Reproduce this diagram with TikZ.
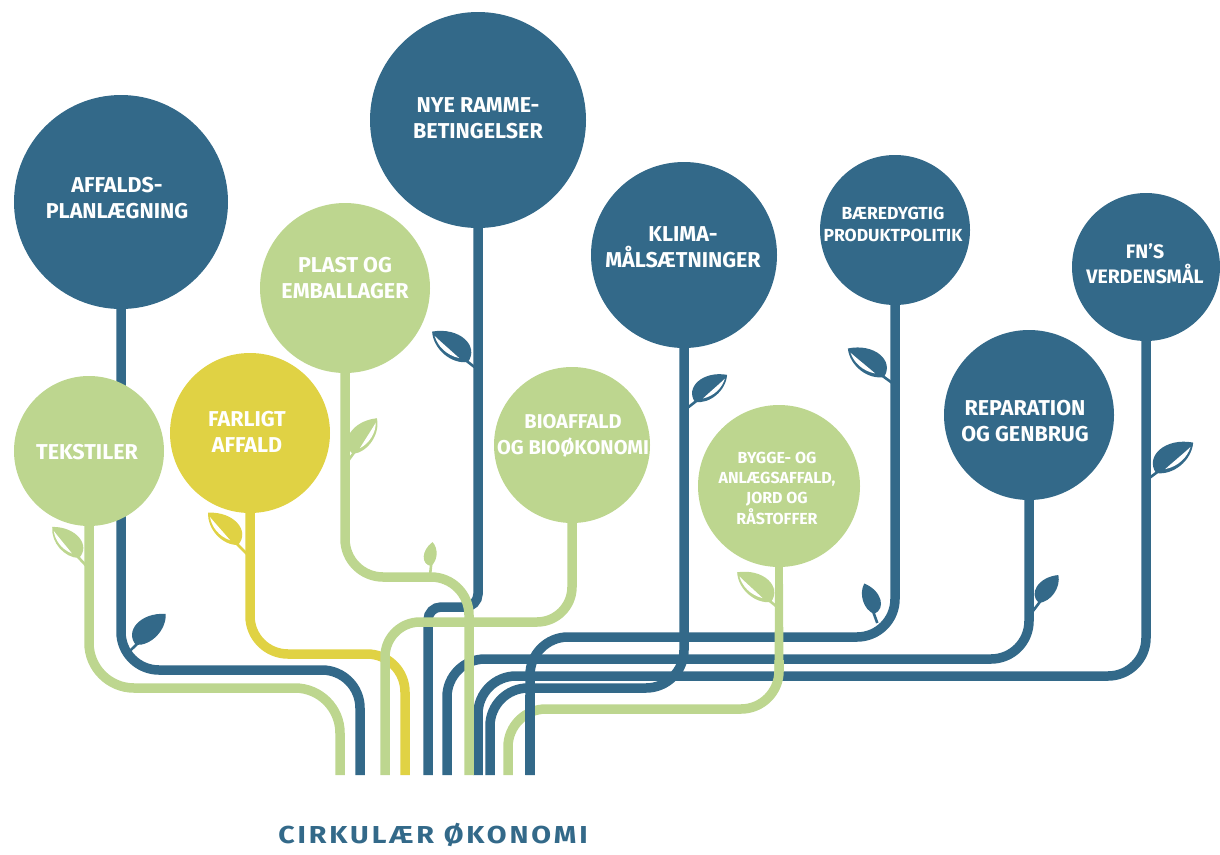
\documentclass[tikz,border=0pt]{standalone}
\usepackage{fontspec}
\setmainfont{Fira Sans}
\newfontfamily\titlefont{Fira Sans}[LetterSpace=10]
\definecolor{cblue}{RGB}{51,105,137}
\definecolor{cgreen}{RGB}{189,214,143}
\definecolor{cyellow}{RGB}{224,210,68}
\tikzset{
  stem/.style={line width=9.5pt, rounded corners=38pt},
  bub/.style={circle, inner sep=0pt, draw=none},
  lbl/.style={text=white, align=center, inner sep=0pt, font=\bfseries\fontsize{21.5}{26}\selectfont},
  slbl/.style={lbl, font=\bfseries\fontsize{17.5}{22}\selectfont},
}
\newcommand{\leafshape}{(0,0) .. controls (0.02,0.42) and (0.6,0.48) .. (1,0.04) .. controls (0.75,-0.24) and (0.25,-0.26) .. (0,0) -- cycle}
\newcommand{\veinshape}{(0.2,-0.05) .. controls (0.45,-0.17) and (0.72,-0.13) .. (0.9,0.0) .. controls (0.7,-0.02) and (0.45,-0.03) .. (0.2,-0.05) -- cycle}
\newcommand{\lf}[6]{%
  \begin{scope}[shift={#2}, rotate=#3, scale=#4, yscale=#5]
    \draw[#1, line width=2.6pt] (-0.3,0) -- (0.15,0);
    \fill[#1] \leafshape;
    \ifnum#6=1 \fill[white] \veinshape; \fi
  \end{scope}}
\begin{document}
\begin{tikzpicture}[x=1pt, y=-1pt]
\useasboundingbox (0,0) rectangle (1220,854);
% circles (as anchors, filled later)
\path (121,202) node[bub, minimum size=214pt] (aff) {};
\path (89,451)  node[bub, minimum size=150pt] (tek) {};
\path (250,433) node[bub, minimum size=160pt] (far) {};
\path (345,288) node[bub, minimum size=170pt] (pla) {};
\path (478,120) node[bub, minimum size=216pt] (nye) {};
\path (572,445) node[bub, minimum size=156pt] (bio) {};
\path (684,255) node[bub, minimum size=186pt] (kli) {};
\path (895,230) node[bub, minimum size=150pt] (bae) {};
\path (1146,267) node[bub, minimum size=148pt] (fns) {};
\path (1029,415) node[bub, minimum size=170pt] (rep) {};
\path (779,486) node[bub, minimum size=162pt] (byg) {};
% bottom ends
\coordinate (e1) at (340,775);
\coordinate (e2) at (360,775);
\coordinate (e3) at (385,775);
\coordinate (e4) at (405,775);
\coordinate (e5) at (428,775);
\coordinate (e6) at (447,775);
\coordinate (e7) at (469,775);
\coordinate (e8) at (478,775);
\coordinate (e9) at (490,775);
\coordinate (e10) at (508,775);
\coordinate (e11) at (530,775);
% blue stems
\draw[stem, cblue] (aff.center) -- (121,670) -- (360,670) -- (e2);
\draw[stem, cblue, rounded corners=13pt] (nye.center) -- (478,607) -- (428,607) -- (e5);
\draw[stem, cblue] (fns.center) -- (1146,676) -- (478,676) -- (e8);
\draw[stem, cblue] (rep.center) -- (1029,659) -- (447,659) -- (e6);
\draw[stem, cblue] (kli.center) -- (684,688) -- (490,688) -- (e9);
\draw[stem, cblue] (bae.center) -- (895,637) -- (530,637) -- (e11);
% yellow
\draw[stem, cyellow] (far.center) -- (250,654) -- (405,654) -- (e4);
% green
\draw[stem, cgreen, rounded corners=45pt] (tek.center) -- (89,688) -- (340,688) -- (e1);
\draw[stem, cgreen] (pla.center) -- (345,577) -- (469,577) -- (e7);
\draw[stem, cgreen, rounded corners=35pt] (bio.center) -- (572,622) -- (385,622) -- (e3);
\fill[cgreen] (775.5,500) -- (782.5,500) -- (783.5,672) -- (774.5,672) -- cycle;
\draw[stem, cgreen] (779,660) -- (779,709) -- (508,709) -- (e10);
% blue over green at the crossing low on the right
\draw[cblue, line width=9.5pt] (530,695) -- (e11);
% circles
\fill[cblue] (aff) circle (107pt);
\fill[cgreen] (tek) circle (75pt);
\fill[cyellow] (far) circle (80pt);
\fill[cgreen] (pla) circle (85pt);
\fill[cblue] (nye) circle (108pt);
\fill[cgreen] (bio) circle (78pt);
\fill[cblue] (kli) circle (93pt);
\fill[cblue] (bae) circle (75pt);
\fill[cblue] (fns) circle (74pt);
\fill[cblue] (rep) circle (85pt);
\fill[cgreen] (byg) circle (81pt);
% leaves
\lf{cblue}{(136,645)}{44}{43}{-1}{0}
\lf{cgreen}{(79,558)}{133}{41}{1}{1}
\lf{cyellow}{(238,545)}{135}{44}{1}{1}
\lf{cgreen}{(353,454)}{54}{43}{-1}{1}
\lf{cgreen}{(431,566)}{84}{24}{-1}{0}
\lf{cblue}{(468,362)}{142}{47}{1}{1}
\lf{cblue}{(695,402)}{38}{42}{-1}{1}
\lf{cblue}{(884,377)}{144}{46}{1}{1}
\lf{cblue}{(874,614)}{110}{32}{1}{0}
\lf{cgreen}{(771,602)}{141}{45}{1}{1}
\lf{cblue}{(1039,603)}{53}{34}{-1}{0}
\lf{cblue}{(1156,473)}{37}{48}{-1}{1}
% labels
\node[lbl] (taff) at (117,198) {AFFALDS-\\PLANLÆGNING};
\node[lbl] (ttek) at (87,452) {TEKSTILER};
\node[lbl] (tfar) at (247,432) {FARLIGT\\AFFALD};
\node[lbl] (tpla) at (345,278) {PLAST OG\\EMBALLAGER};
\node[lbl] (tnye) at (478,118) {NYE RAMME-\\BETINGELSER};
\node[lbl, font=\bfseries\fontsize{20}{26}\selectfont] (tbio) at (573,436) {BIOAFFALD\\OG BIOØKONOMI};
\node[lbl] (tkli) at (683,247) {KLIMA-\\MÅLSÆTNINGER};
\node[slbl] (tbae) at (893,224) {BÆREDYGTIG\\PRODUKTPOLITIK};
\node[slbl, font=\bfseries\fontsize{19.5}{25}\selectfont] (tfns) at (1145,264) {FN’S\\VERDENSMÅL};
\node[lbl] (trep) at (1025,421) {REPARATION\\OG GENBRUG};
\node[slbl, font=\bfseries\fontsize{16}{20.3}\selectfont] (tbyg) at (777,488) {BYGGE- OG\\ANLÆGSAFFALD,\\JORD OG\\RÅSTOFFER};
\node[text=cblue, inner sep=0pt, font=\titlefont\bfseries\fontsize{24.5}{30}\selectfont] (title) at (433,835) {\scalebox{1.17}[1]{CIRKULÆR ØKONOMI}};
\end{tikzpicture}
\end{document}
